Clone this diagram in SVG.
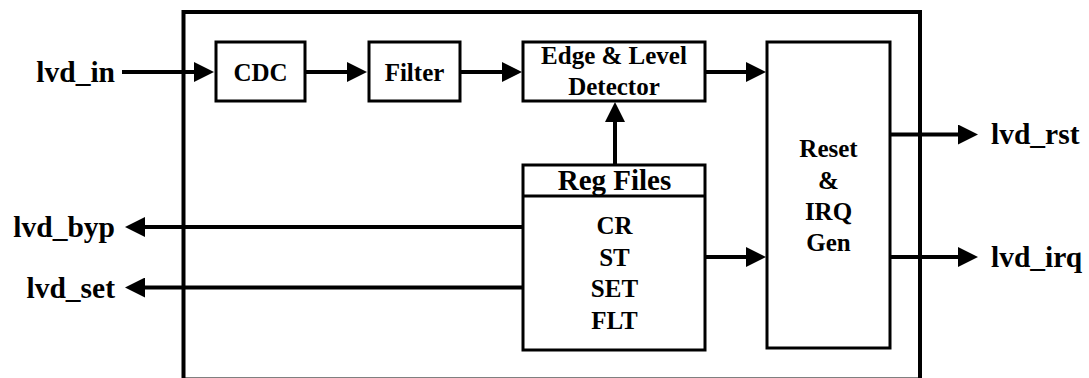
<svg xmlns="http://www.w3.org/2000/svg" width="1089" height="378" viewBox="0 0 1089 378">
<style>
.box{fill:#fff;stroke:#000;stroke-width:3}
.wire{fill:none;stroke:#000;stroke-width:4}
text{font-family:'Liberation Serif','Times New Roman',Times,'DejaVu Serif',serif;font-weight:bold;fill:#000}
.in{font-size:25px;text-anchor:middle}
.io{font-size:29.5px}
</style>
<defs>
<marker id="ah" viewBox="0 0 20 20" refX="10" refY="10" markerWidth="20" markerHeight="20" markerUnits="userSpaceOnUse" orient="auto">
<path d="M0,0 L20,10 L0,20 z" fill="#000"/>
</marker>
</defs>
<rect id="outer" x="183.5" y="12" width="736.5" height="367.5" fill="#fff" stroke="#000" stroke-width="4"/>
<g id="cdc"><rect class="box" x="216" y="42" width="89" height="59"/><text class="in" x="260.5" y="80.5">CDC</text></g>
<g id="filter"><rect class="box" x="369" y="42" width="91" height="59"/><text class="in" x="414.5" y="80.5">Filter</text></g>
<g id="detector"><rect class="box" x="523" y="42" width="182" height="59"/><text class="in" x="614" y="63.5">Edge &amp; Level</text><text class="in" x="614" y="94.5">Detector</text></g>
<g id="regfiles"><rect class="box" x="523" y="165" width="182" height="185"/><line x1="523" y1="196" x2="705" y2="196" stroke="#000" stroke-width="3"/><text x="614.5" y="189.5" font-size="29" text-anchor="middle">Reg Files</text><text class="in" x="614.5" y="234">CR</text><text class="in" x="614.5" y="266">ST</text><text class="in" x="614.5" y="297">SET</text><text class="in" x="614.5" y="328.5">FLT</text></g>
<g id="resetirq"><rect class="box" x="767" y="42" width="123" height="306"/><text class="in" x="828.5" y="157">Reset</text><text class="in" x="828.5" y="188.5">&amp;</text><text class="in" x="828.5" y="220">IRQ</text><text class="in" x="828.5" y="250.5">Gen</text></g>
<g id="ports">
<text class="io" x="115" y="81.5" text-anchor="end">lvd_in</text>
<text class="io" x="115" y="236.5" text-anchor="end">lvd_byp</text>
<text class="io" x="115" y="297.5" text-anchor="end">lvd_set</text>
<text class="io" x="991" y="143.5">lvd_rst</text>
<text class="io" x="991" y="266.5">lvd_irq</text>
</g>
<g id="connectors">
<line class="wire" x1="122" y1="72" x2="204" y2="72" marker-end="url(#ah)"/>
<line class="wire" x1="305" y1="72" x2="357" y2="72" marker-end="url(#ah)"/>
<line class="wire" x1="460" y1="72" x2="512" y2="72" marker-end="url(#ah)"/>
<line class="wire" x1="705" y1="72" x2="756" y2="72" marker-end="url(#ah)"/>
<line class="wire" x1="615" y1="165" x2="615" y2="112" marker-end="url(#ah)"/>
<line class="wire" x1="705" y1="257" x2="756" y2="257" marker-end="url(#ah)"/>
<line class="wire" x1="523" y1="227" x2="135" y2="227" marker-end="url(#ah)"/>
<line class="wire" x1="523" y1="287.5" x2="135" y2="287.5" marker-end="url(#ah)"/>
<line class="wire" x1="890" y1="134.5" x2="968" y2="134.5" marker-end="url(#ah)"/>
<line class="wire" x1="890" y1="257" x2="968" y2="257" marker-end="url(#ah)"/>
</g>
</svg>
